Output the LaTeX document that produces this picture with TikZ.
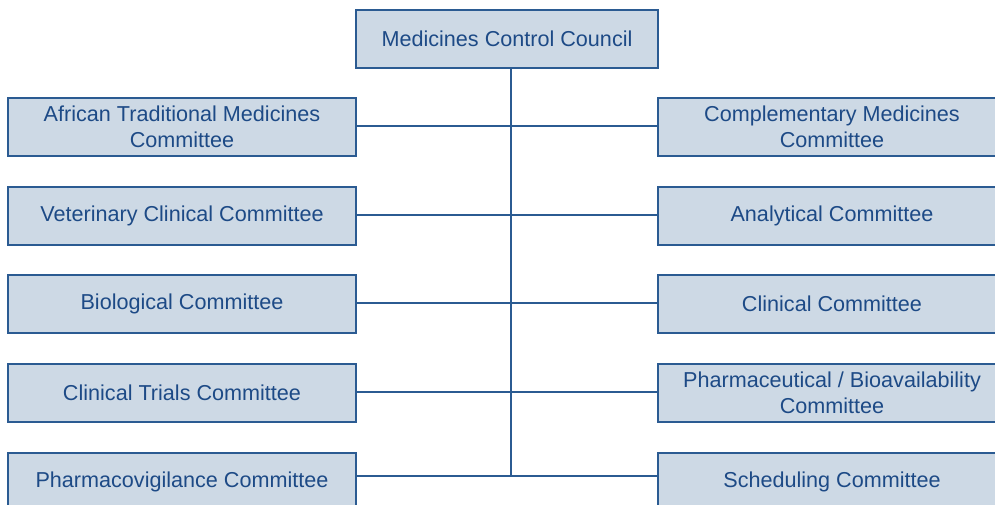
\documentclass[tikz,border=0pt]{standalone}
\usepackage{fontspec}
\setmainfont{Liberation Sans}
\definecolor{mccline}{HTML}{2B5B92}
\definecolor{mcctext}{HTML}{1D4A86}
\definecolor{mccfill}{HTML}{CDD9E5}

\begin{document}
\begin{tikzpicture}[x=1pt, y=-1pt,
    unit/.style={draw=mccline, line width=1.4pt, fill=mccfill, text=mcctext,
        minimum width=348pt, minimum height=58pt, align=center, inner sep=0pt,
        font=\fontsize{21.6}{26}\selectfont},
    link/.style={draw=mccline, line width=1.3pt}]
            % Page
            \clip (0,0) rectangle (995,504);

            % Council
            \node[unit, minimum width=302pt] (mcc) at (507,39) {Medicines Control Council};

            % Left committees
            \node[unit] (atm) at (182,127) {African Traditional Medicines\\Committee};
            \node[unit] (vcc) at (182,216) {Veterinary Clinical Committee};
            \node[unit] (bio) at (182,304) {Biological Committee};
            \node[unit] (ctc) at (182,393) {Clinical Trials Committee};
            \node[unit] (pvc) at (182,482) {Pharmacovigilance Committee};

            % Right committees
            \node[unit] (cmc) at (832,127) {Complementary Medicines\\Committee};
            \node[unit] (anc) at (832,216) {Analytical Committee};
            \node[unit] (clc) at (832,304) {Clinical Committee};
            \node[unit] (pbc) at (832,393) {Pharmaceutical / Bioavailability\\Committee};
            \node[unit] (sch) at (832,482) {Scheduling Committee};

            % Trunk
            \coordinate (trunkend) at (511,476);
            \draw[link] ([xshift=4pt]mcc.south) -- (trunkend);

            % Branches
            \foreach \l/\r in {atm/cmc, vcc/anc, bio/clc, ctc/pbc}
                \draw[link] ([yshift=1pt]\l.east) -- ([yshift=1pt]\r.west);
            \draw[link] ([yshift=6pt]pvc.east) -- ([yshift=6pt]sch.west);
\end{tikzpicture}
\end{document}
